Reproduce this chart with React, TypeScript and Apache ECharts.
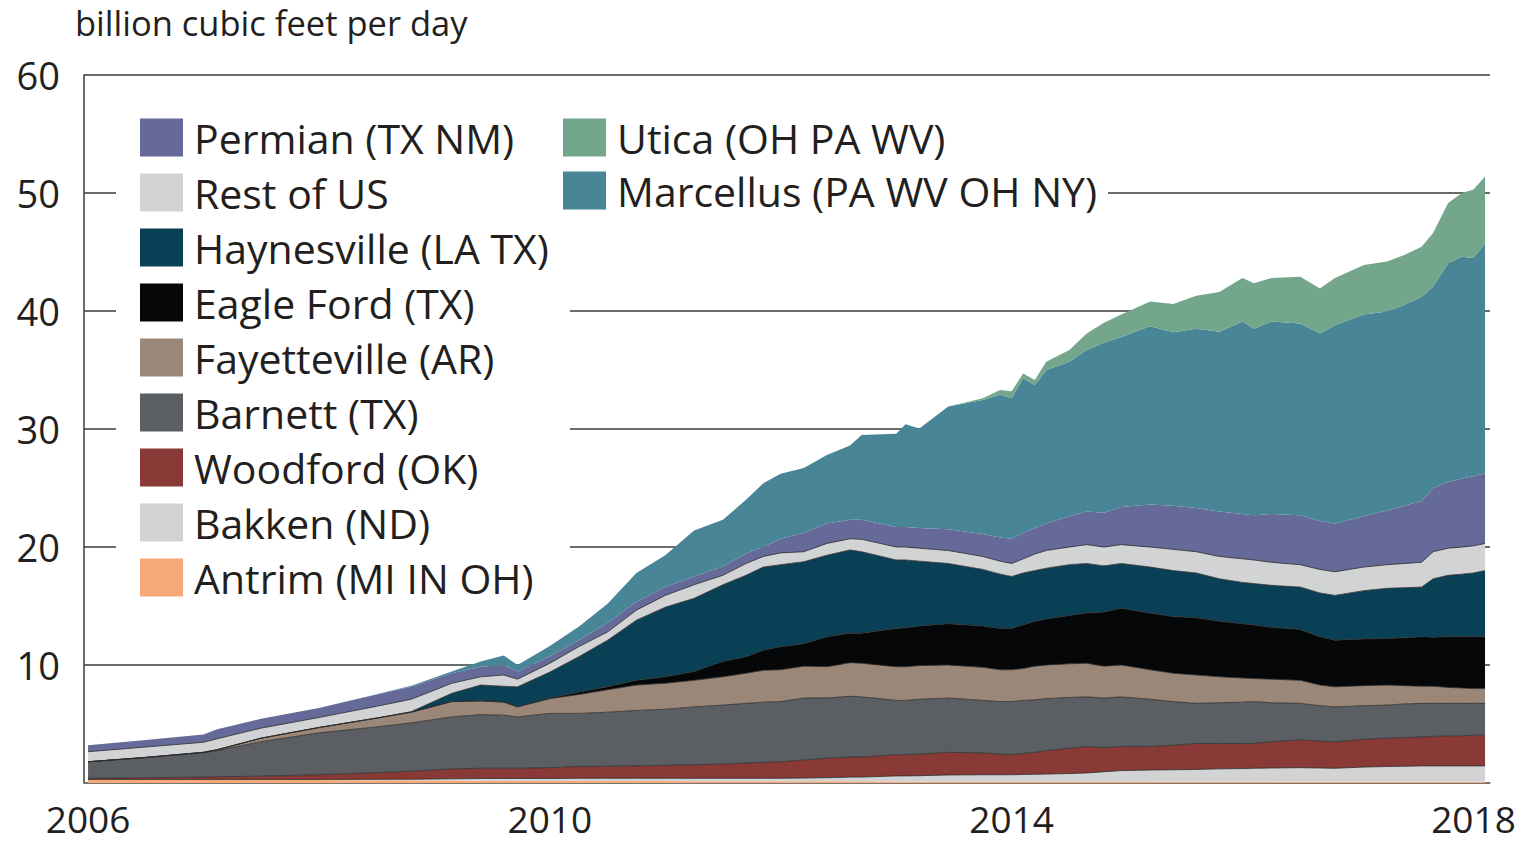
import React, { useEffect, useRef } from "react";
import * as echarts from "echarts";

// time axis (decimal years)
const T = [2006.0, 2006.5, 2007.0, 2007.12, 2007.5, 2008.0, 2008.5, 2008.8, 2009.15, 2009.4, 2009.6, 2009.72, 2010.0, 2010.25, 2010.5, 2010.75, 2011.0, 2011.25, 2011.5, 2011.7, 2011.85, 2012.0, 2012.2, 2012.4, 2012.6, 2012.7, 2013.0, 2013.08, 2013.2, 2013.45, 2013.75, 2013.9, 2014.0, 2014.1, 2014.2, 2014.3, 2014.5, 2014.65, 2014.8, 2014.95, 2015.2, 2015.4, 2015.6, 2015.8, 2016.0, 2016.1, 2016.25, 2016.5, 2016.67, 2016.8, 2017.05, 2017.25, 2017.4, 2017.55, 2017.65, 2017.78, 2017.9, 2018.0, 2018.1];

const antrim = [.28, .28, .27, .27, .26, .25, .24, .23, .22, .20, .20, .19, .18, .17, .17, .16, .16, .15, .15, .15, .15, .14, .14, .14, .14, .14, .13, .13, .13, .13, .13, .12, .12, .12, .12, .12, .12, .12, .12, .12, .12, .11, .11, .11, .11, .11, .11, .11, .10, .10, .10, .10, .10, .10, .10, .10, .10, .10, .10];
const bakken = [.02, .02, .03, .03, .04, .05, .07, .09, .13, .18, .18, .19, .20, .23, .23, .24, .24, .25, .25, .25, .25, .26, .28, .31, .36, .36, .47, .47, .49, .55, .57, .58, .58, .60, .62, .64, .68, .73, .83, .93, .98, 1.01, 1.04, 1.09, 1.11, 1.14, 1.16, 1.19, 1.17, 1.15, 1.25, 1.30, 1.32, 1.35, 1.35, 1.35, 1.35, 1.35, 1.35];
const woodford = [.10, .15, .20, .23, .28, .40, .57, .68, .85, .87, .87, .87, .92, 1.00, 1.02, 1.05, 1.10, 1.15, 1.20, 1.30, 1.35, 1.40, 1.53, 1.65, 1.70, 1.70, 1.80, 1.80, 1.83, 1.92, 1.85, 1.75, 1.70, 1.78, 1.86, 1.99, 2.15, 2.25, 2.05, 2.05, 2.00, 2.08, 2.20, 2.15, 2.13, 2.10, 2.23, 2.35, 2.28, 2.25, 2.35, 2.40, 2.43, 2.45, 2.50, 2.55, 2.55, 2.60, 2.60];
const barnett = [1.40, 1.70, 2.05, 2.22, 2.92, 3.55, 3.87, 4.10, 4.40, 4.55, 4.50, 4.35, 4.60, 4.50, 4.58, 4.70, 4.75, 4.90, 5.00, 5.05, 5.10, 5.10, 5.25, 5.10, 5.15, 5.10, 4.60, 4.60, 4.65, 4.60, 4.45, 4.45, 4.50, 4.50, 4.45, 4.40, 4.30, 4.20, 4.20, 4.20, 4.00, 3.70, 3.40, 3.45, 3.50, 3.55, 3.30, 3.10, 3.00, 2.95, 2.85, 2.80, 2.85, 2.85, 2.80, 2.75, 2.75, 2.70, 2.70];
const fayetteville = [0, .02, .05, .07, .30, .45, .75, .90, 1.30, 1.15, 1.10, .85, 1.25, 1.60, 1.90, 2.15, 2.20, 2.25, 2.40, 2.55, 2.70, 2.70, 2.70, 2.65, 2.85, 2.85, 2.85, 2.85, 2.85, 2.80, 2.80, 2.70, 2.70, 2.70, 2.85, 2.85, 2.85, 2.85, 2.70, 2.70, 2.50, 2.40, 2.40, 2.20, 2.05, 1.95, 2.00, 1.95, 1.75, 1.70, 1.70, 1.70, 1.55, 1.45, 1.45, 1.35, 1.30, 1.25, 1.25];
const eagleFord = [0, 0, 0, 0, 0, 0, 0, 0, 0, .02, .02, .02, .05, .20, .25, .40, .55, .75, 1.30, 1.40, 1.70, 1.95, 1.90, 2.55, 2.50, 2.55, 3.25, 3.30, 3.35, 3.50, 3.50, 3.50, 3.50, 3.70, 3.80, 3.90, 4.10, 4.25, 4.60, 4.80, 4.80, 4.80, 4.85, 4.70, 4.60, 4.55, 4.40, 4.30, 4.10, 3.95, 3.95, 3.95, 4.05, 4.20, 4.15, 4.30, 4.35, 4.40, 4.40];
const haynesville = [0, 0, 0, 0, 0, 0, 0, .05, .70, 1.33, 1.33, 1.68, 2.20, 3.00, 3.95, 5.10, 5.90, 6.20, 6.50, 6.90, 7.05, 6.95, 6.95, 6.90, 7.05, 6.90, 5.80, 5.75, 5.50, 5.10, 4.80, 4.60, 4.40, 4.40, 4.30, 4.30, 4.30, 4.20, 3.90, 3.80, 3.90, 3.90, 3.80, 3.60, 3.50, 3.50, 3.55, 3.60, 3.70, 3.80, 4.10, 4.25, 4.25, 4.20, 4.95, 5.20, 5.30, 5.40, 5.60];
const restOfUS = [.85, .88, .85, .93, .85, .85, 1.00, 1.05, .85, .70, .95, .65, .75, .85, .70, .85, 1.00, 1.15, .80, 1.00, .90, 1.00, .85, 1.00, .95, 1.05, 1.10, 1.10, 1.10, 1.10, 1.10, 1.10, 1.10, 1.20, 1.40, 1.50, 1.50, 1.60, 1.60, 1.60, 1.70, 1.80, 1.80, 1.90, 2.00, 2.00, 1.95, 1.90, 2.00, 2.00, 2.00, 2.00, 2.05, 2.10, 2.30, 2.30, 2.30, 2.30, 2.30];
const permian = [.55, .60, .65, .80, .80, .80, 1.00, 1.05, .85, .85, .85, .65, .60, .55, .75, .70, .70, .70, .75, .85, .80, 1.20, 1.60, 1.70, 1.60, 1.65, 1.70, 1.70, 1.70, 1.80, 1.90, 2.00, 2.10, 2.20, 2.20, 2.30, 2.60, 2.80, 2.90, 3.20, 3.60, 3.70, 3.70, 3.80, 3.80, 3.80, 4.10, 4.20, 4.10, 4.10, 4.30, 4.60, 4.90, 5.20, 5.40, 5.60, 5.80, 5.90, 5.95];
const marcellus = [0, 0, 0, 0, 0, 0, .02, .10, .15, .45, .80, .55, .85, 1.15, 1.65, 2.45, 2.70, 3.90, 3.95, 4.55, 5.40, 5.50, 5.50, 5.80, 6.30, 7.20, 7.90, 8.70, 8.45, 10.40, 11.35, 12.10, 11.90, 13.10, 12.10, 13.00, 13.10, 13.70, 14.40, 14.40, 15.10, 14.70, 15.20, 15.25, 16.30, 15.80, 16.30, 16.25, 15.90, 16.80, 17.10, 16.85, 17.00, 17.30, 17.05, 18.55, 18.80, 18.50, 19.45];
const utica = [0, 0, 0, 0, 0, 0, 0, 0, 0, 0, 0, 0, 0, 0, 0, 0, 0, 0, 0, 0, 0, 0, 0, 0, 0, 0, 0, 0, 0, 0, .15, .40, .60, .40, .45, .70, 1.00, 1.40, 1.70, 1.90, 2.10, 2.40, 2.80, 3.35, 3.70, 3.85, 3.70, 3.95, 3.80, 4.00, 4.20, 4.25, 4.25, 4.25, 4.55, 5.10, 5.40, 5.80, 5.70];

const xTickLabels = [2006, 2010, 2014, 2018];

// stacking order, bottom to top
const SERIES = [
  { name: "Antrim (MI IN OH)", data: antrim, color: "#f5aa78", edge: 0 },
  { name: "Bakken (ND)", data: bakken, color: "#d2d3d5", edge: 1 },
  { name: "Woodford (OK)", data: woodford, color: "#893a36", edge: 1 },
  { name: "Barnett (TX)", data: barnett, color: "#5b5f63", edge: 1 },
  { name: "Fayetteville (AR)", data: fayetteville, color: "#9b8777", edge: 1 },
  { name: "Eagle Ford (TX)", data: eagleFord, color: "#060709", edge: 1 },
  { name: "Haynesville (LA TX)", data: haynesville, color: "#0a4055", edge: 1 },
  { name: "Rest of US", data: restOfUS, color: "#d2d3d5", edge: 1 },
  { name: "Permian (TX NM)", data: permian, color: "#666a98", edge: 0 },
  { name: "Marcellus (PA WV OH NY)", data: marcellus, color: "#478597", edge: 0 },
  { name: "Utica (OH PA WV)", data: utica, color: "#73a68b", edge: 0 },
];

const LEGEND_LEFT = ["Permian (TX NM)", "Rest of US", "Haynesville (LA TX)", "Eagle Ford (TX)", "Fayetteville (AR)", "Barnett (TX)", "Woodford (OK)", "Bakken (ND)", "Antrim (MI IN OH)"];
const LEGEND_RIGHT = ["Utica (OH PA WV)", "Marcellus (PA WV OH NY)"];

const FONT = '"Open Sans", Lato, sans-serif';
const TEXT = "#231f20";
const X_MIN = 2005.965;
const X_MAX = 2018.143;

// decimal year -> UTC timestamp
const ts = (y: number) => {
  const yr = Math.floor(y);
  const a = Date.UTC(yr, 0, 1);
  const b = Date.UTC(yr + 1, 0, 1);
  return a + (y - yr) * (b - a);
};

export default function App() {
  const ref = useRef<HTMLDivElement>(null);
  useEffect(() => {
    if (!ref.current) return;
    const chart = echarts.init(ref.current, undefined, { renderer: "svg" });
    const legendCommon = {
      orient: "vertical",
      icon: "rect",
      itemWidth: 43,
      itemHeight: 38,
      padding: 0,
      selectedMode: false,
      itemStyle: { borderWidth: 0 },
      textStyle: { fontSize: 41, fontFamily: FONT, color: TEXT, lineHeight: 38, padding: [0, 0, 0, 6] },
    };
    chart.setOption({
      animation: false,
      title: {
        text: "billion cubic feet per day",
        left: 70,
        top: 0,
        textStyle: { fontSize: 34.5, fontWeight: "normal", fontFamily: FONT, color: TEXT },
      },
      grid: { left: 84, right: 32, top: 75, bottom: 60 },
      legend: [
        { ...legendCommon, left: 140, top: 117, itemGap: 14, data: LEGEND_LEFT },
        { ...legendCommon, left: 563, top: 117, itemGap: 12, data: LEGEND_RIGHT },
      ],
      graphic: [
        { type: "rect", z: 1, silent: true, shape: { x: 116, y: 92, width: 454, height: 512 }, style: { fill: "#ffffff" } },
        { type: "rect", z: 1, silent: true, shape: { x: 570, y: 112, width: 538, height: 104 }, style: { fill: "#ffffff" } },
      ],
      xAxis: [
        {
          type: "time",
          min: ts(X_MIN),
          max: ts(X_MAX),
          axisLine: { show: true, lineStyle: { color: "#7a7a7a", width: 1.5 } },
          axisTick: { show: false },
          splitLine: { show: false },
          axisLabel: { show: false },
        },
        {
          type: "value",
          position: "bottom",
          min: X_MIN,
          max: X_MAX,
          axisLine: { show: false },
          axisTick: { show: false },
          splitLine: { show: false },
          axisLabel: {
            customValues: xTickLabels,
            formatter: (v: number) => String(Math.round(v)),
            fontSize: 37,
            lineHeight: 34,
            fontFamily: FONT,
            color: TEXT,
            margin: 18,
          },
        },
      ],
      yAxis: {
        type: "value",
        min: 0,
        max: 60,
        interval: 10,
        axisLine: { show: true, lineStyle: { color: "#3a3a3a", width: 1.5 } },
        axisTick: { show: false },
        splitLine: { show: true, lineStyle: { color: "#3a3a3a", width: 1.5 } },
        axisLabel: {
          formatter: (v: number) => (v === 0 ? "" : String(v)),
          fontSize: 38,
          fontFamily: FONT,
          color: TEXT,
          margin: 24,
        },
      },
      series: SERIES.map((s) => ({
        name: s.name,
        type: "line",
        xAxisIndex: 0,
        stack: "total",
        symbol: "none",
        showSymbol: false,
        silent: true,
        itemStyle: { color: s.color },
        lineStyle: { width: s.edge, color: "#2b2b2b", opacity: 0.8 },
        areaStyle: { color: s.color, opacity: 1 },
        data: T.map((t, i) => [ts(t), s.data[i]]),
      })),
    });
    return () => chart.dispose();
  }, []);
  return (
    <div
      ref={ref}
      style={{ position: "fixed", left: 0, top: 0, width: 1522, height: 843, background: "#fff" }}
    />
  );
}
